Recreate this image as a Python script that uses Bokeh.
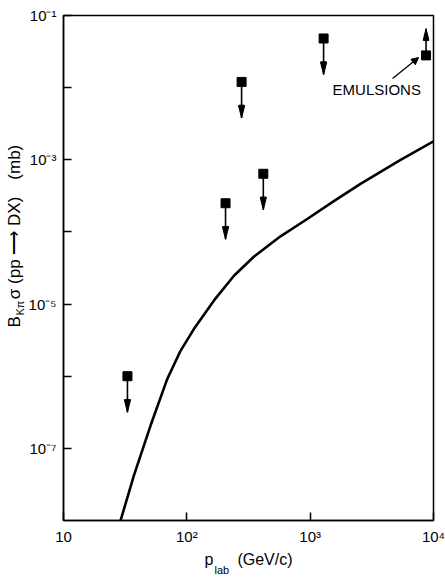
import math
from bokeh.plotting import figure
from bokeh.models import FixedTicker, Label, Arrow, NormalHead, Range1d, Title
from bokeh.embed import file_html
from bokeh.resources import INLINE

# ---- data ----
curve_p = [28.5, 37.2, 50.8, 69.3, 88.9, 114, 170.6, 240, 349, 575, 946,
           1556, 2559, 5410, 10000]
curve_sigma = [9.0e-9, 4.2e-8, 2.07e-7, 9.1e-7, 2.25e-6, 4.5e-6, 1.19e-5, 2.45e-5,
               4.53e-5, 8.7e-5, 1.51e-4, 2.67e-4, 4.63e-4, 1.0e-3, 1.8e-3]

limit_p = [33, 206, 278, 417, 1285]
limit_sigma = [1.0e-6, 2.5e-4, 1.2e-2, 6.4e-4, 4.8e-2]

emulsion_p = [8700]
emulsion_sigma = [2.8e-2]

x_ticks = [10, 100, 1000, 10000]
x_tick_labels = ["10", "10²", "10³", "10⁴"]
y_ticks = [10.0 ** k for k in range(-7, 0)]
y_tick_labels = ["10⁻⁷", "", "10⁻⁵", "", "10⁻³", "", "10⁻¹"]

x_title_main = "p\u2003\u2002(GeV/c)"
x_title_sub = "lab"
y_title_main = "B\u2003σ (pp ⟶ DX)\u2003(mb)"
y_title_sub = "Kπ"

note_text = "EMULSIONS"
note_pos = [1520, 9.4e-3]
note_arrow_start = [4660, 0.0134]
note_arrow_end = [7570, 0.0261]

FONT = "Liberation Sans"
down_len = 10 ** -0.5
up_len = 10 ** 0.37

p = figure(x_axis_type="log", y_axis_type="log",
           x_range=Range1d(10, 1e4), y_range=Range1d(1e-8, 1e-1),
           frame_width=370, frame_height=505,
           min_border_left=63, min_border_right=12, min_border_top=15, min_border_bottom=57,
           output_backend="svg", toolbar_location=None)

p.grid.visible = False
p.outline_line_color = "black"
p.outline_line_width = 1.5
p.outline_line_alpha = 1.0
p.background_fill_color = "white"
p.border_fill_color = "white"

for ax in (p.xaxis[0], p.yaxis[0]):
    ax.axis_line_width = 1.5
    ax.axis_line_color = "black"
    ax.major_tick_line_width = 1.5
    ax.major_tick_line_color = "black"
    ax.major_tick_in = 8
    ax.major_tick_out = 0
    ax.minor_tick_line_color = None
    ax.major_label_text_font = FONT
    ax.major_label_text_font_size = "15px"
    ax.major_label_text_color = "black"
    ax.major_label_standoff = 7

p.xaxis[0].ticker = FixedTicker(ticks=x_ticks)
p.xaxis[0].major_label_overrides = {t: s for t, s in zip(x_ticks, x_tick_labels)}
p.yaxis[0].ticker = FixedTicker(ticks=y_ticks)
p.yaxis[0].major_label_overrides = {t: s for t, s in zip(y_ticks, y_tick_labels)}

# x axis title (main part as the axis label, subscript as a title below it)
p.xaxis[0].axis_label = x_title_main
p.xaxis[0].axis_label_text_font = FONT
p.xaxis[0].axis_label_text_font_size = "16px"
p.xaxis[0].axis_label_text_font_style = "normal"
p.xaxis[0].axis_label_text_color = "black"
p.xaxis[0].axis_label_standoff = 3
p.add_layout(Title(text=x_title_sub, align="left", offset=151, standoff=-13.5,
                   vertical_align="top", text_font=FONT, text_font_size="11px",
                   text_font_style="normal", text_color="black"), "below")

# y axis title (subscript title nearer the axis, main title outside it)
p.add_layout(Title(text=y_title_sub, align="left", offset=205, standoff=-4,
                   vertical_align="top", text_font=FONT, text_font_size="11px",
                   text_font_style="normal", text_color="black"), "left")
p.add_layout(Title(text=y_title_main, align="left", offset=193, standoff=-21,
                   vertical_align="top", text_font=FONT, text_font_size="17px",
                   text_font_style="normal", text_color="black"), "left")

# theoretical curve
p.line(curve_p, curve_sigma, line_color="black", line_width=2.6)

# upper limits with down arrows
limit_tips = [s * down_len for s in limit_sigma]
p.segment(x0=limit_p, y0=limit_sigma, x1=limit_p, y1=limit_tips,
          line_color="black", line_width=1.6)
p.wedge(x=limit_p, y=limit_tips, radius=13, radius_units="screen",
        start_angle=math.radians(76), end_angle=math.radians(104),
        fill_color="black", line_color="black")
p.scatter(limit_p, limit_sigma, marker="square", size=9,
          fill_color="black", line_color="black")

# emulsion point with up arrow
em_tips = [s * up_len for s in emulsion_sigma]
p.segment(x0=emulsion_p, y0=emulsion_sigma, x1=emulsion_p, y1=em_tips,
          line_color="black", line_width=1.6)
p.wedge(x=emulsion_p, y=em_tips, radius=12, radius_units="screen",
        start_angle=math.radians(256), end_angle=math.radians(284),
        fill_color="black", line_color="black")
p.scatter(emulsion_p, emulsion_sigma, marker="square", size=9,
          fill_color="black", line_color="black")

# annotation
p.add_layout(Arrow(x_start=note_arrow_start[0], y_start=note_arrow_start[1],
                   x_end=note_arrow_end[0], y_end=note_arrow_end[1],
                   line_color="black", line_width=1.3,
                   end=NormalHead(size=7, fill_color="black", line_color="black")))
p.add_layout(Label(x=note_pos[0], y=note_pos[1], text=note_text,
                   text_font=FONT, text_font_size="15px", text_color="black",
                   text_baseline="alphabetic"))

open("out.html", "w").write(file_html(p, INLINE))
